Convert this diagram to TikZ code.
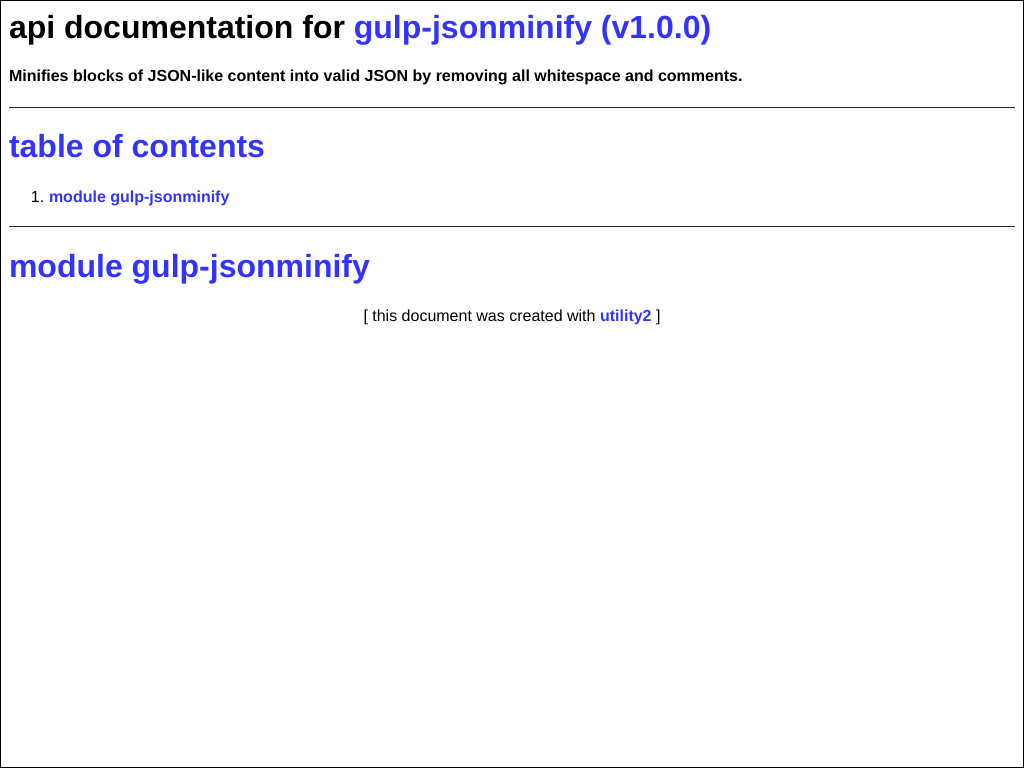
\documentclass[tikz,border=0pt]{standalone}
\usepackage{fontspec}
\setmainfont{Liberation Sans}
\definecolor{linkblue}{HTML}{3333FF}
\begin{document}
\begin{tikzpicture}[x=0.75pt,y=-0.75pt,
  txt/.style={inner sep=0pt,outer sep=0pt},
  hone/.style={txt,anchor=base west,font=\fontsize{24pt}{28pt}\selectfont\bfseries},
  para/.style={txt,anchor=base west,font=\fontsize{12pt}{14pt}\selectfont},
  rule/.style={draw=black!85,line width=0.75pt}]
\useasboundingbox (0,0) rectangle (1024,768);
\draw[black,line width=0.75pt] (0.5,0.5) rectangle (1023.5,767.5);
% title
\node[hone] (title) at (9,38) {api documentation for \textcolor{linkblue}{gulp-jsonminify (v1.0.0)}};
\node[para,font=\fontsize{12pt}{14pt}\selectfont\bfseries] (desc) at (9,81) {Minifies blocks of JSON-like content into valid JSON by removing all whitespace and comments.};
\coordinate (r1a) at (9,107.5);
\coordinate (r1b) at (1015,107.5);
\draw[rule] (r1a) -- (r1b);
% toc
\node[hone,text=linkblue] (toc) at (9,157) {table of contents};
\node[para] (num) at (31,202) {1.};
\node[para,font=\fontsize{12pt}{14pt}\selectfont\bfseries,text=linkblue] (item) at (49,202) {module gulp-jsonminify};
\coordinate (r2a) at (9,226.5);
\coordinate (r2b) at (1015,226.5);
\draw[rule] (r2a) -- (r2b);
% module
\node[hone,text=linkblue] (mod) at (9,277) {module gulp-jsonminify};
\node[txt,anchor=base,font=\fontsize{12pt}{14pt}\selectfont] (foot) at (512,321) {[ this document was created with \textcolor{linkblue}{\bfseries utility2} ]};
\end{tikzpicture}
\end{document}
